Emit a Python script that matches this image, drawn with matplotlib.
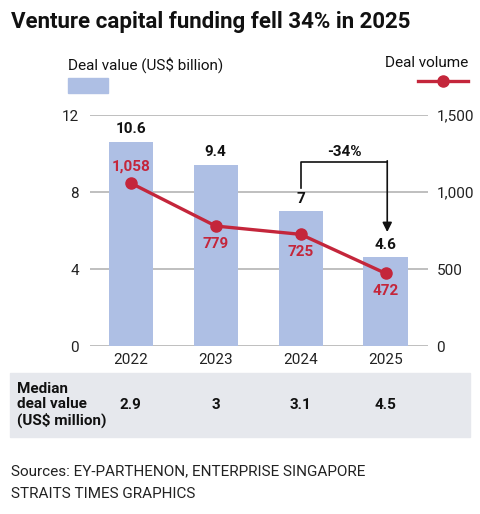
import matplotlib
matplotlib.use("Agg")
import matplotlib.pyplot as plt
from matplotlib.patches import Rectangle
from matplotlib.lines import Line2D

plt.rcParams.update({
    "font.family": ["Roboto", "DejaVu Sans"],
    "font.size": 11,
})

years = ["2022", "2023", "2024", "2025"]
deal_value = [10.6, 9.4, 7, 4.6]
deal_volume = [1058, 779, 725, 472]
median_value = ["2.9", "3", "3.1", "4.5"]
left_ticks = [0, 4, 8, 12]
right_ticks = [0, 500, 1000, 1500]

BAR = "#aebfe4"
RED = "#c4263b"
GRID = "#b4b4b4"

fig = plt.figure(figsize=(4.8, 5.14), dpi=100)
ax = fig.add_axes([90 / 480, 1 - 346 / 514, 338 / 480, 231 / 514])
ax2 = ax.twinx()

x = list(range(len(years)))
ax.bar(x, deal_value, width=0.52, color=BAR, zorder=2)
for xi, v in zip(x, deal_value):
    ax.annotate(f"{v:g}", (xi, v), xytext=(0, 4), textcoords="offset points",
                ha="center", va="bottom", fontsize=11, fontweight="bold", color="#111111")

ax.set_xlim(-0.48, 3.5)
ax.set_ylim(0, 12)
ax.set_yticks(left_ticks)
ax.set_xticks(x)
ax.set_xticklabels(years)
for yv in left_ticks:
    ax.axhline(yv, color=GRID, lw=1.2, zorder=1)
ax.tick_params(axis="both", length=0, labelsize=11, colors="#222222")
ax.tick_params(axis="y", pad=8)
ax.tick_params(axis="x", pad=5)

ax2.set_ylim(0, 1500)
ax2.set_yticks(right_ticks)
ax2.set_yticklabels([f"{t:,}" for t in right_ticks])
ax2.tick_params(axis="y", length=0, labelsize=11, pad=6, colors="#222222")
ax2.plot(x, deal_volume, color=RED, lw=2.4, marker="o", ms=8, zorder=4)
for i, (xi, v) in enumerate(zip(x, deal_volume)):
    if i == 0:
        ax2.annotate(f"{v:,}", (xi, v), xytext=(0, 7), textcoords="offset points",
                     ha="center", va="bottom", fontsize=11, fontweight="bold", color=RED)
    else:
        ax2.annotate(f"{v:,}", (xi, v), xytext=(0, -8), textcoords="offset points",
                     ha="center", va="top", fontsize=11, fontweight="bold", color=RED)

for a in (ax, ax2):
    for sp in a.spines.values():
        sp.set_visible(False)
ax.set_zorder(ax2.get_zorder() - 1)
ax.patch.set_visible(False)
ax2.patch.set_visible(False)

# -34% bracket from 2024 to 2025
ax.plot([2, 2, 3.02], [8.2, 9.56, 9.56], color="#111111", lw=1.2, zorder=5)
ax.annotate("", xy=(3.02, 5.92), xytext=(3.02, 9.62),
            arrowprops=dict(arrowstyle="-|>", color="#111111", lw=1.2,
                            mutation_scale=14, shrinkA=0, shrinkB=0), zorder=5)
ax.text(2.52, 10.1, "-34%", ha="center", va="center", fontsize=11, fontweight="bold", color="#111111")

# title
fig.text(11 / 480, 1 - 22 / 514, "Venture capital funding fell 34% in 2025",
         ha="left", va="center", fontsize=16, fontweight="bold", color="#111111")

# legend
fig.text(68 / 480, 1 - 65 / 514, "Deal value (US$ billion)", ha="left", va="center",
         fontsize=11, color="#111111")
fig.patches.append(Rectangle((68 / 480, 1 - 93 / 514), 40 / 480, 15 / 514,
                             transform=fig.transFigure, color=BAR))
fig.text(468 / 480, 1 - 63 / 514, "Deal volume", ha="right", va="center",
         fontsize=11, color="#111111")
fig.lines.append(Line2D([418 / 480, 468 / 480], [1 - 81 / 514, 1 - 81 / 514],
                        transform=fig.transFigure, color=RED, lw=2.4))
fig.lines.append(Line2D([443 / 480], [1 - 81 / 514], transform=fig.transFigure,
                        color=RED, marker="o", ms=8))

# median deal value table band
fig.patches.append(Rectangle((10 / 480, 1 - 437 / 514), 460 / 480, 64 / 514,
                             transform=fig.transFigure, color="#e6e8ed", zorder=0))
fig.text(17 / 480, 1 - 405 / 514, "Median\ndeal value\n(US$ million)", ha="left", va="center",
         fontsize=11, fontweight="bold", color="#111111", linespacing=1.15)
for xi, m in zip(x, median_value):
    px = ax.transData.transform((xi, 0))[0]
    fig.text(px / fig.bbox.width, 1 - 405 / 514, m, ha="center", va="center",
             fontsize=11, fontweight="bold", color="#111111")

fig.text(11 / 480, 1 - 471 / 514, "Sources: EY-PARTHENON, ENTERPRISE SINGAPORE",
         ha="left", va="center", fontsize=11, color="#222222")
fig.text(11 / 480, 1 - 494 / 514, "STRAITS TIMES GRAPHICS",
         ha="left", va="center", fontsize=11, color="#222222")

fig.savefig("out.png", dpi=100, facecolor="white")
